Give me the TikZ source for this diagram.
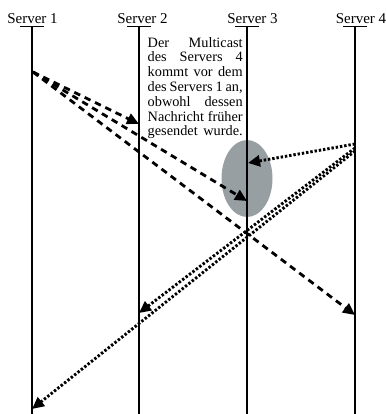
\documentclass[tikz,border=0pt]{standalone}
\usepackage{fontspec}
\setmainfont{Liberation Serif}
\usetikzlibrary{arrows.meta}
\definecolor{ellgray}{RGB}{151,159,162}
\newcommand{\jline}[1]{\makebox[95pt][s]{#1}}
\begin{document}
\begin{tikzpicture}[x=1pt,y=-1pt,
  lifeline/.style={line width=1.2pt},
  under/.style={line width=1pt},
  lbl/.style={anchor=base,inner sep=0pt,font=\fontsize{15}{15}\selectfont},
  dmsg/.style={line width=2.8pt,dash pattern=on 6.5pt off 5pt,-{Triangle[length=12pt,width=11pt]}},
  pmsg/.style={line width=2.9pt,dash pattern=on 2.4pt off 1.9pt,-{Triangle[length=12pt,width=11pt]}},
  note/.style={anchor=north west,inner sep=0pt,align=left,font=\fontsize{14.3}{14.8}\selectfont}]
\useasboundingbox (0,0) rectangle (385,414);
% shaded ellipse
\fill[ellgray] (247,178.5) ellipse [x radius=25.5pt,y radius=38.5pt];
% labels
\node[lbl] (l1) at (32.5,24) {Server 1};
\node[lbl] (l2) at (142.5,24) {Server 2};
\node[lbl] (l3) at (252.5,24) {Server 3};
\node[lbl] (l4) at (361,24) {Server 4};
% tops and bottoms of lifelines
\foreach \i/\x in {1/32,2/139,3/247,4/355}{
  \coordinate (t\i) at (\x,27);
  \coordinate (b\i) at (\x,414);
  \draw[under] ([xshift=-12pt]t\i) -- ([xshift=12pt]t\i);
  \draw[lifeline] (t\i) -- (b\i);
}
% note
\node[note] (txt) at (147.5,37) {\jline{Der Multicast}\\ \jline{des Servers 4}\\ \jline{kommt vor dem}\\ \jline{des Servers 1 an,}\\ \jline{obwohl dessen}\\ \jline{Nachricht früher}\\ \jline{gesendet wurde.}};
% events
\coordinate (s1) at (33,72);
\coordinate (r12) at (139,124);
\coordinate (r13) at (247,201);
\coordinate (r14) at (355,315);
\coordinate (s4a) at (355,144);
\coordinate (s4b) at (355,148);
\coordinate (s4c) at (355,151);
\coordinate (r43) at (248,163);
\coordinate (r42) at (139,313);
\coordinate (r41) at (32,409);
% dashed messages of Server 1
\draw[dmsg] (s1) -- (r12);
\draw[dmsg] (s1) -- (r13);
\draw[dmsg] (s1) -- (r14);
% dotted messages of Server 4
\draw[pmsg] (s4a) -- (r43);
\draw[pmsg] (s4b) -- (r42);
\draw[pmsg] (s4c) -- (r41);
\end{tikzpicture}
\end{document}
